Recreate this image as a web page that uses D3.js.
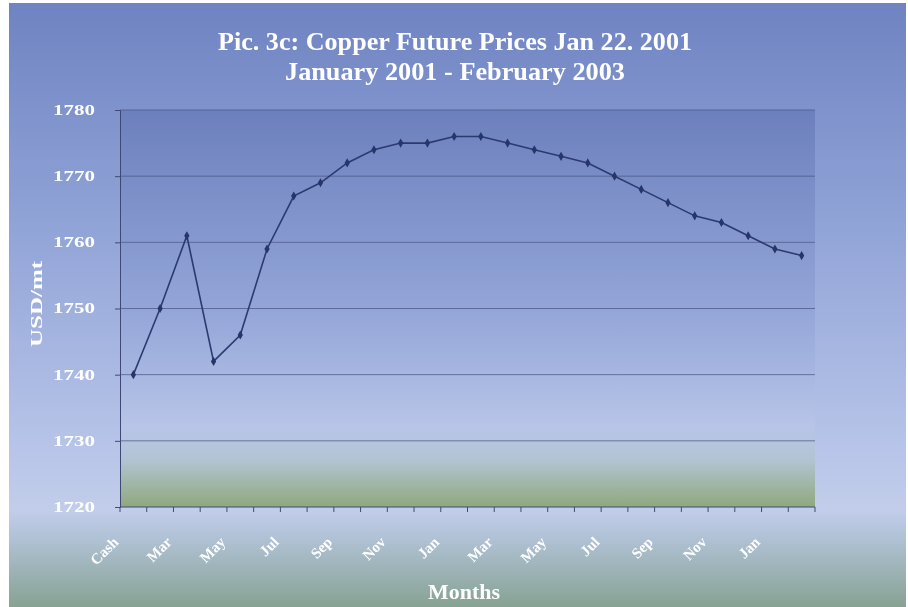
<!DOCTYPE html>
<html>
<head>
<meta charset="utf-8">
<script src="https://cdn.jsdelivr.net/npm/d3@7/dist/d3.min.js"></script>
<style>
  html, body { margin: 0; padding: 0; background: #ffffff; }
  svg { display: block; }
  text { font-family: "Liberation Serif", "Times New Roman", serif; font-weight: bold; fill: #ffffff; }
</style>
</head>
<body>
<svg id="chart" width="908" height="607"></svg>
<script>
// Copper futures curve quoted on Jan 22, 2001: cash price and monthly contracts Feb 2001 – Feb 2003
const months = ["Cash", "Feb", "Mar", "Apr", "May", "Jun", "Jul", "Aug", "Sep", "Oct", "Nov", "Dec",
                "Jan", "Feb", "Mar", "Apr", "May", "Jun", "Jul", "Aug", "Sep", "Oct", "Nov", "Dec",
                "Jan", "Feb"];
const prices = [1740, 1750, 1761, 1742, 1746, 1759, 1767, 1769, 1772, 1774, 1775, 1775,
                1776, 1776, 1775, 1774, 1773, 1772, 1770, 1768, 1766, 1764, 1763, 1761,
                1759, 1758];
const yTicks = [1720, 1730, 1740, 1750, 1760, 1770, 1780];
const titleLines = ["Pic. 3c: Copper Future Prices Jan 22. 2001", "January 2001 - February 2003"];
const xTitle = "Months";
const yTitle = "USD/mt";

const svg = d3.select("#chart");
const W = 908, H = 607;
const margin = { left: 120, right: 93, top: 110, bottom: 100 };
const plotW = W - margin.left - margin.right;
const plotH = H - margin.top - margin.bottom;

const defs = svg.append("defs");

// Outer chart background: blue at the top, pale in the middle, grey-green at the bottom
const bgGrad = defs.append("linearGradient").attr("id", "bgGrad")
  .attr("x1", 0).attr("y1", 0).attr("x2", 0).attr("y2", 1);
[[0, "#6f83c2"], [0.35, "#8fa2d6"], [0.72, "#b6c3e8"], [0.84, "#c2cdea"], [0.88, "#b2c3d8"], [1, "#87a293"]]
  .forEach(([o, c]) => bgGrad.append("stop").attr("offset", o).attr("stop-color", c));

// Plot area background: deep blue to pale blue, with a green band near the base
const plotGrad = defs.append("linearGradient").attr("id", "plotGrad")
  .attr("x1", 0).attr("y1", 0).attr("x2", 0).attr("y2", 1);
[[0, "#6c80bd"], [0.5, "#93a5d8"], [0.8, "#b8c5e8"], [0.88, "#b2c4d4"], [1, "#90a87e"]]
  .forEach(([o, c]) => plotGrad.append("stop").attr("offset", o).attr("stop-color", c));

const soft = defs.append("filter").attr("id", "soft");
soft.append("feGaussianBlur").attr("stdDeviation", 0.5);

svg.append("rect").attr("x", 9).attr("y", 3).attr("width", W - 11).attr("height", H - 3)
  .attr("fill", "url(#bgGrad)");

const x = d3.scaleBand().domain(d3.range(months.length)).range([0, plotW]).paddingInner(0).paddingOuter(0);
const y = d3.scaleLinear().domain([1720, 1780]).range([plotH, 0]);

const g = svg.append("g").attr("transform", `translate(${margin.left},${margin.top})`)
  .attr("filter", "url(#soft)");

g.append("rect").attr("width", plotW).attr("height", plotH).attr("fill", "url(#plotGrad)");

// Horizontal gridlines
g.append("g").selectAll("line").data(yTicks.filter(v => v > 1720)).join("line")
  .attr("x1", 0).attr("x2", plotW)
  .attr("y1", d => y(d)).attr("y2", d => y(d))
  .attr("stroke", "#4c5887").attr("stroke-width", 1).attr("stroke-opacity", 0.75);

// Y axis
const yAxis = g.append("g").call(d3.axisLeft(y).tickValues(yTicks).tickSize(5).tickPadding(20).tickFormat(d3.format("d")));
yAxis.select(".domain").attr("stroke", "#3f4a75");
yAxis.selectAll(".tick line").attr("stroke", "#3f4a75");
yAxis.selectAll("text").attr("fill", "#ffffff").attr("font-size", 14)
  .attr("font-family", "Liberation Serif, serif").attr("font-weight", "bold")
  .attr("textLength", 42).attr("lengthAdjust", "spacingAndGlyphs");

// X axis: ticks on category boundaries, labels on every other month
const xAxisG = g.append("g").attr("transform", `translate(0,${plotH})`);
xAxisG.append("line").attr("x1", 0).attr("x2", plotW).attr("stroke", "#3f4a75");
xAxisG.selectAll("line.tk").data(d3.range(months.length + 1)).join("line").attr("class", "tk")
  .attr("x1", i => i < months.length ? x(i) : plotW).attr("x2", i => i < months.length ? x(i) : plotW)
  .attr("y1", 0).attr("y2", 5).attr("stroke", "#3f4a75");
xAxisG.selectAll("text").data(d3.range(0, months.length, 2)).join("text")
  .attr("transform", i => `translate(${x(i) + x.bandwidth() / 2 - 14},${36}) rotate(-45)`)
  .attr("text-anchor", "end").attr("font-size", 15)
  .text(i => months[i]);

// Price curve with markers
const line = d3.line().x((d, i) => x(i) + x.bandwidth() / 2).y(d => y(d));
g.append("path").datum(prices).attr("d", line)
  .attr("fill", "none").attr("stroke", "#2b3a70").attr("stroke-width", 1.6);
g.append("g").selectAll("path").data(prices).join("path")
  .attr("d", d3.symbol().type(d3.symbolDiamond).size(24))
  .attr("transform", (d, i) => `translate(${x(i) + x.bandwidth() / 2},${y(d)})`)
  .attr("fill", "#25346a");

// Titles
const titleWidths = [474, 340];
const titles = svg.append("g").attr("filter", "url(#soft)");
titles.selectAll("text.title").data(titleLines).join("text").attr("class", "title")
  .attr("x", 455).attr("y", (d, i) => 50 + i * 30)
  .attr("text-anchor", "middle").attr("font-size", 25)
  .attr("textLength", (d, i) => titleWidths[i]).attr("lengthAdjust", "spacingAndGlyphs")
  .text(d => d);
titles.append("text").attr("x", 464).attr("y", 599).attr("text-anchor", "middle")
  .attr("font-size", 20).attr("textLength", 72).attr("lengthAdjust", "spacingAndGlyphs")
  .text(xTitle);
titles.append("text").attr("transform", "translate(42,304) rotate(-90)")
  .attr("text-anchor", "middle").attr("font-size", 17)
  .attr("textLength", 86).attr("lengthAdjust", "spacingAndGlyphs").text(yTitle);
</script>
</body>
</html>
